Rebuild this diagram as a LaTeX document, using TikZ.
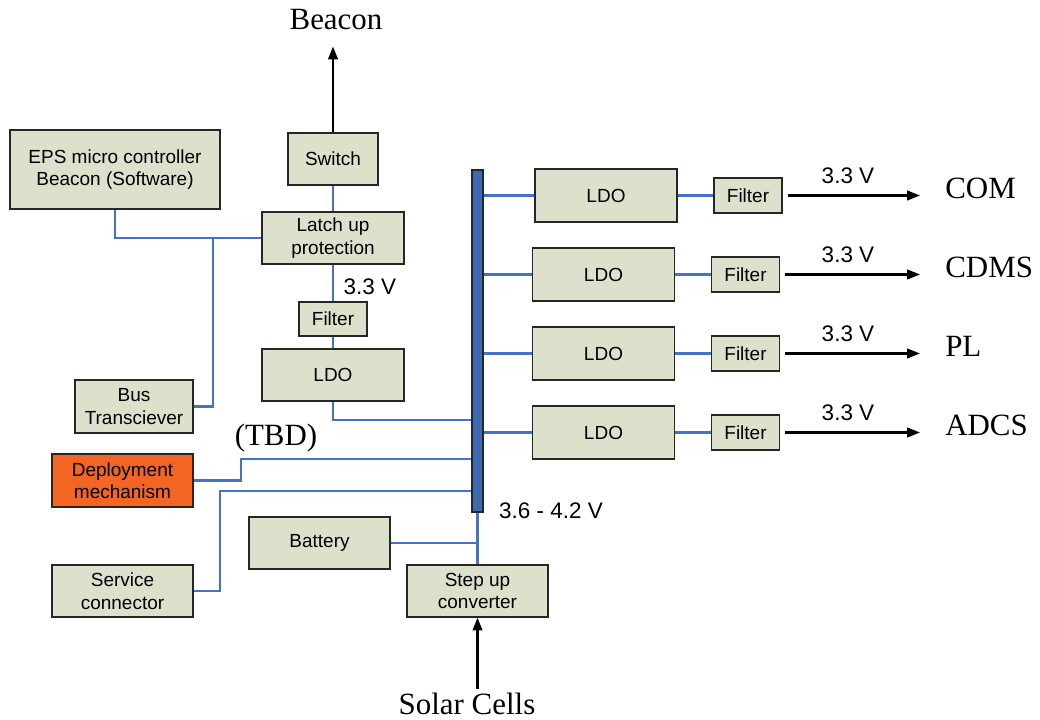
\documentclass[tikz,border=0pt]{standalone}
\usepackage{fontspec}
\setmainfont{Liberation Serif}
\setsansfont{Liberation Sans}
\usetikzlibrary{arrows.meta, calc}
\definecolor{boxgray}{RGB}{221,224,203}
\definecolor{wireblue}{RGB}{68,114,196}
\definecolor{barblue}{RGB}{62,106,176}
\definecolor{deporange}{RGB}{242,101,34}

\tikzset{
  blk/.style={draw=black!85, fill=boxgray, line width=0.9pt, align=center, inner sep=0pt,
    font=\sffamily\fontsize{13.5}{16}\selectfont},
  ldo/.style={blk, minimum width=3.55cm, minimum height=1.325cm},
  filt/.style={blk, minimum width=1.7cm, minimum height=0.875cm},
  wire/.style={wireblue, line width=1.6pt},
  feed/.style={-{Triangle[length=3.2mm, width=2.4mm]}, line width=1.5pt},
  lbl/.style={font=\fontsize{22}{26}\selectfont, inner sep=0pt},
  volt/.style={font=\sffamily\fontsize{16}{19}\selectfont, inner sep=0pt},
}

\begin{document}
\begin{tikzpicture}[x=0.025cm, y=-0.025cm]
  \useasboundingbox (0,0) rectangle (1040,720);

  % Left side blocks
  \node[blk, minimum width=5.25cm, minimum height=1.975cm] (eps) at (115,169.5)
    {EPS micro controller\\Beacon (Software)};
  \node[blk, minimum width=2.25cm, minimum height=1.3cm] (sw) at (333,159) {Switch};
  \node[blk, minimum width=3.55cm, minimum height=1.3cm] (latch) at (333,238) {Latch up\\protection};
  \node[filt, minimum height=0.85cm] (filt0) at (333,319) {Filter};
  \node[ldo, minimum height=1.3cm] (ldo0) at (333,375) {LDO};
  \node[blk, minimum width=2.95cm, minimum height=1.325cm] (bustr) at (134,406.5) {Bus\\Transciever};
  \node[blk, fill=deporange, minimum width=3.525cm, minimum height=1.325cm] (dep) at (122.5,480.5)
    {Deployment\\mechanism};
  \node[blk, minimum width=3.525cm, minimum height=1.3cm] (svc) at (122.5,591) {Service\\connector};
  \node[blk, minimum width=3.525cm, minimum height=1.3cm] (batt) at (319.5,543) {Battery};
  \node[blk, minimum width=3.525cm, minimum height=1.3cm] (stepup) at (477.5,591) {Step up\\converter};

  % Power bus
  \node[draw=black!85, fill=barblue, line width=0.9pt, inner sep=0pt,
    minimum width=0.275cm, minimum height=8.55cm] (bar) at (477.5,341) {};

  % Outer labels
  \node[lbl] (beacon) at (336,20) {Beacon};
  \node[lbl] (solar) at (467,704) {Solar Cells};
  \node[lbl] (tbd) at (276,438) {(TBD)};
  \node[volt] (v0) at (370,287) {3.3 V};
  \node[volt] (vbus) at (551,511) {3.6 - 4.2 V};

  % Wiring on the left
  \draw[wire] (eps.south) |- (latch.west);
  \coordinate (tap) at (213,238);
  \draw[wire] (tap) |- (bustr.east);
  \draw[wire] (sw.south) -- (latch.north);
  \draw[wire] (latch.south) -- (filt0.north);
  \draw[wire] (filt0.south) -- (ldo0.north);
  \draw[wire] (ldo0.south) |- (bar.west |- 0,420);
  \draw[wire] (dep.east) -- ++(47,0) |- (bar.west |- 0,459);
  \draw[wire] (svc.east) -- ++(26,0) |- (bar.west |- 0,491);
  \draw[wire] (batt.east) -- (batt.east -| bar.south);
  \draw[wire] (bar.south) -- (stepup.north);

  % Inputs and beacon output
  \draw[feed, shorten >=0.4cm] (sw.north) -- (sw.north |- beacon.south);
  \draw[feed, shorten <=0.1cm] (stepup.south |- solar.north) -- (stepup.south);

  % Regulated outputs
  \foreach \n/\x/\y/\dst in {1/2.5/195.5/COM, 2/0/274.5/CDMS, 3/0/353.5/PL, 4/0/432.5/ADCS} {
    \node[ldo] (ldo\n) at (603.5+\x,\y) {LDO};
    \node[filt] (f\n) at (745.5+\x,\y) {Filter};
    \node[lbl, anchor=west] (d\n) at (945,\y-7) {\dst};
    \node[volt] (v\n) at (848,\y-20) {3.3 V};
    \draw[wire] (bar.east |- ldo\n.west) -- (ldo\n.west);
    \draw[wire] (ldo\n.east) -- (f\n.west);
    \draw[feed, shorten <=0.125cm, shorten >=0.625cm] (f\n.east) -- (f\n.east -| d\n.west);
  }
\end{tikzpicture}
\end{document}
